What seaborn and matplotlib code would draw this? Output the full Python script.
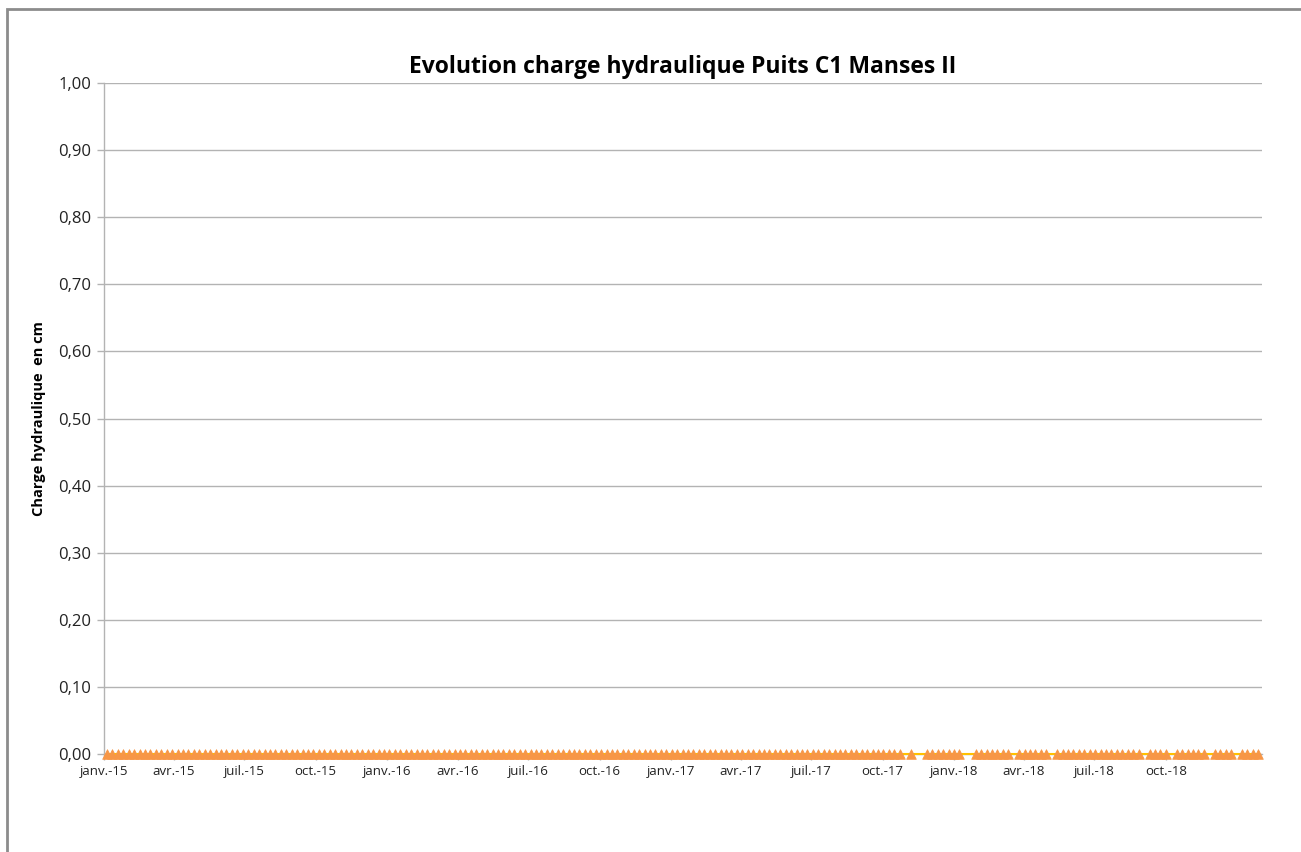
import pandas as pd
import numpy as np
import seaborn as sns
import matplotlib.pyplot as plt
import matplotlib.dates as mdates
from matplotlib.ticker import FuncFormatter
from matplotlib.patches import Rectangle

# --- Data ---
TITLE = "Evolution charge hydraulique Puits C1 Manses II"
Y_LABEL = "Charge hydraulique  en cm"

# weekly readings, all at 0,00 cm
FIRST_READING = "2015-01-05"
LAST_READING = "2019-01-28"
CHARGE_CM = 0.00

# periods where the orange triangle series has readings (gaps after oct.-17)
PERIOD_STARTS = ["2015-01-01", "2017-11-03", "2017-11-22", "2018-01-28", "2018-03-21",
                 "2018-04-16", "2018-05-11", "2018-09-06", "2018-10-11", "2018-11-29",
                 "2019-01-05"]
PERIOD_ENDS = ["2017-10-28", "2017-11-07", "2018-01-13", "2018-03-12", "2018-04-10",
               "2018-05-05", "2018-08-29", "2018-10-05", "2018-11-19", "2018-12-30",
               "2019-01-31"]

TICK_DATES = ["2015-01-01", "2015-04-01", "2015-07-01", "2015-10-01",
              "2016-01-01", "2016-04-01", "2016-07-01", "2016-10-01",
              "2017-01-01", "2017-04-01", "2017-07-01", "2017-10-01",
              "2018-01-01", "2018-04-01", "2018-07-01", "2018-10-01"]
TICK_LABELS = ["janv.-15", "avr.-15", "juil.-15", "oct.-15",
               "janv.-16", "avr.-16", "juil.-16", "oct.-16",
               "janv.-17", "avr.-17", "juil.-17", "oct.-17",
               "janv.-18", "avr.-18", "juil.-18", "oct.-18"]
Y_TICKS = [0.0, 0.1, 0.2, 0.3, 0.4, 0.5, 0.6, 0.7, 0.8, 0.9, 1.0]

# --- Build tables ---
dates = pd.date_range(FIRST_READING, LAST_READING, freq="7D")
line_df = pd.DataFrame({"date": dates, "charge": CHARGE_CM})

keep = np.zeros(len(dates), dtype=bool)
for s, e in zip(PERIOD_STARTS, PERIOD_ENDS):
    keep |= (dates >= pd.Timestamp(s)) & (dates <= pd.Timestamp(e))
tri_df = line_df[keep]

# --- Plot ---
sns.set_theme(style="white")
plt.rcParams["font.family"] = ["Open Sans", "DejaVu Sans"]

fig = plt.figure(figsize=(13.01, 8.52), dpi=100)
ax = fig.add_axes([0.0799, 0.115, 0.8901, 0.7876])

sns.lineplot(data=line_df, x="date", y="charge", color="#FFC000",
             linewidth=1.5, ax=ax, clip_on=False, zorder=3)
sns.scatterplot(data=tri_df, x="date", y="charge", marker="^", color="#F79646",
                edgecolor="#F79646", s=48, ax=ax, clip_on=False, zorder=4)

ax.set_xlim(pd.Timestamp("2015-01-01"), pd.Timestamp("2019-02-02"))
ax.set_ylim(0, 1)
ax.set_yticks(Y_TICKS)
ax.yaxis.set_major_formatter(FuncFormatter(lambda v, p: f"{v:.2f}".replace(".", ",")))
ax.set_xticks([mdates.date2num(pd.Timestamp(d)) for d in TICK_DATES])
ax.set_xticklabels(TICK_LABELS)

ax.grid(axis="y", color="#b3b3b3", linewidth=1)
ax.grid(axis="x", visible=False)
for side in ["top", "right"]:
    ax.spines[side].set_visible(False)
for side in ["left", "bottom"]:
    ax.spines[side].set_color("#b3b3b3")
    ax.spines[side].set_linewidth(1)

ax.tick_params(axis="y", labelsize=12, colors="#b3b3b3", labelcolor="#222222",
               length=5, width=1, pad=4, left=True)
ax.tick_params(axis="x", labelsize=9.5, colors="#b3b3b3", labelcolor="#222222",
               length=4, width=1, pad=4, bottom=True)

ax.set_xlabel("")
ax.set_ylabel(Y_LABEL, fontsize=10.5, fontweight="bold", color="black", labelpad=9)
ax.set_title(TITLE, fontsize=16.5, fontweight="bold", color="black", pad=7)

# outer chart border
fig.patches.append(Rectangle((7 / 1301, -0.01), 1.02, 1 - 9 / 852 + 0.01,
                             transform=fig.transFigure, fill=False,
                             edgecolor="#8c8c8c", linewidth=2))

fig.savefig("out.png", dpi=100)
